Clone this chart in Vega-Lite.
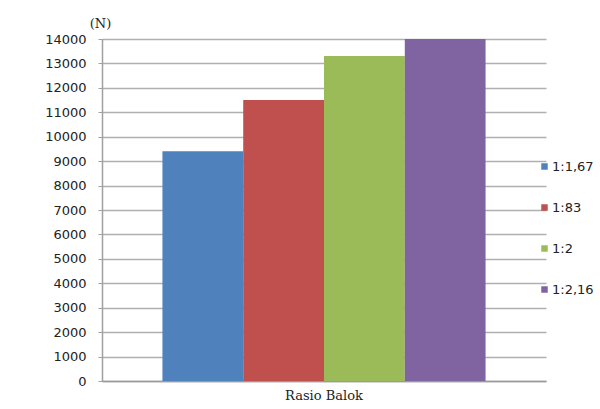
{
  "$schema": "https://vega.github.io/schema/vega-lite/v6.json",
  "width": 444,
  "height": 342,
  "autosize": {"type": "none"},
  "padding": {"left": 102, "top": 39, "right": 54, "bottom": 28},
  "background": "white",
  "data": {
    "values": [
      {"kategori": "Rasio Balok", "rasio": "1:1,67", "gaya": 9400},
      {"kategori": "Rasio Balok", "rasio": "1:83", "gaya": 11500},
      {"kategori": "Rasio Balok", "rasio": "1:2", "gaya": 13300},
      {"kategori": "Rasio Balok", "rasio": "1:2,16", "gaya": 14000}
    ]
  },
  "mark": {"type": "bar"},
  "encoding": {
    "x": {
      "field": "kategori",
      "type": "nominal",
      "scale": {"paddingInner": 0, "paddingOuter": 0.187},
      "axis": {
        "title": null,
        "labelAngle": 0,
        "labelFont": "DejaVu Serif",
        "labelFontSize": 13,
        "labelColor": "#222",
        "labelPadding": 8,
        "ticks": false,
        "domainColor": "#999999",
        "domainWidth": 1.5
      }
    },
    "xOffset": {
      "field": "rasio",
      "type": "nominal",
      "sort": ["1:1,67", "1:83", "1:2", "1:2,16"],
      "scale": {"paddingInner": 0, "paddingOuter": 0}
    },
    "y": {
      "field": "gaya",
      "type": "quantitative",
      "scale": {"domain": [0, 14000], "nice": false},
      "axis": {
        "values": [0, 1000, 2000, 3000, 4000, 5000, 6000, 7000, 8000, 9000, 10000, 11000, 12000, 13000, 14000],
        "format": "d",
        "title": "(N)",
        "titleAngle": 0,
        "titleX": -2,
        "titleY": -16,
        "titleAlign": "center",
        "titleBaseline": "middle",
        "titleFont": "DejaVu Serif",
        "titleFontSize": 13,
        "titleFontWeight": "normal",
        "titleColor": "#222",
        "labelFont": "DejaVu Sans",
        "labelFontSize": 13,
        "labelColor": "#222",
        "labelPadding": 12,
        "tickSize": 4,
        "tickColor": "#a0a0a0",
        "domainColor": "#a0a0a0",
        "domainWidth": 1.5,
        "grid": true,
        "gridColor": "#b0b0b0",
        "gridWidth": 1.5
      }
    },
    "color": {
      "field": "rasio",
      "type": "nominal",
      "sort": ["1:1,67", "1:83", "1:2", "1:2,16"],
      "scale": {"range": ["#4F81BD", "#C0504D", "#9BBB59", "#8064A2"]},
      "legend": {
        "title": null,
        "orient": "none",
        "legendX": 436,
        "legendY": 121,
        "padding": 0,
        "symbolType": "square",
        "symbolSize": 42,
        "symbolStrokeWidth": 0,
        "labelFont": "DejaVu Sans",
        "labelFontSize": 13,
        "labelColor": "#222",
        "labelOffset": 1,
        "rowPadding": 27
      }
    }
  },
  "config": {
    "view": {"stroke": null}
  }
}
